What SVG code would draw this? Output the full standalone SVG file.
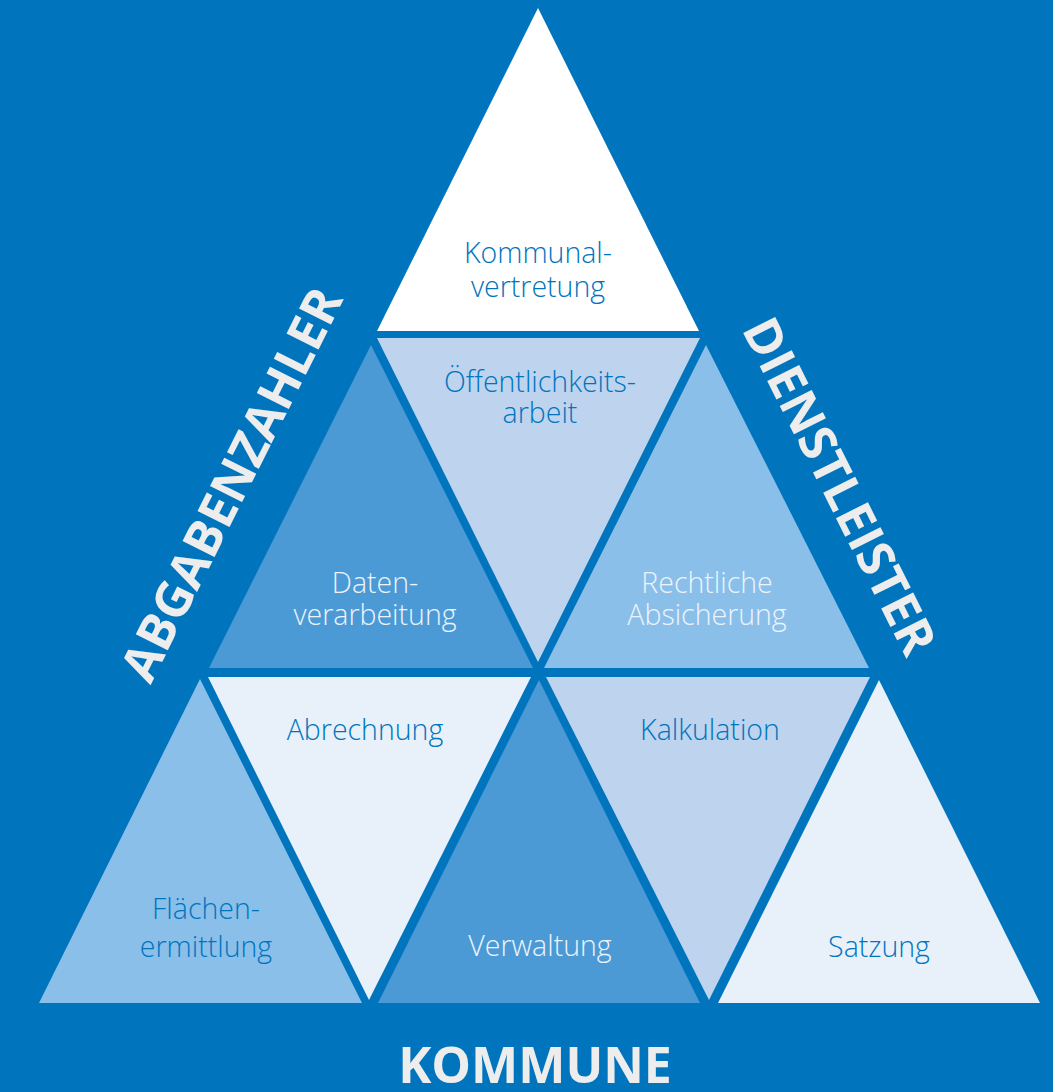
<svg xmlns="http://www.w3.org/2000/svg" width="1053" height="1092" viewBox="0 0 1053 1092">
<style>
.lbl{font-family:"Open Sans","Noto Sans","Liberation Sans",sans-serif;font-weight:300;font-size:28.5px;text-anchor:middle;fill:#0075BE}
.lw{fill:#EEF3FA}
.big{font-family:"Open Sans","Liberation Sans",sans-serif;font-weight:700;font-size:50px;text-anchor:middle;fill:#EDEDED}
.c-white{fill:#FFFFFF}
.c-pale{fill:#E8F0FA}
.c-light{fill:#BDD3EE}
.c-sky{fill:#8ABFEA}
.c-mid{fill:#4B9AD5}
</style>
<rect x="0" y="0" width="1053" height="1092" fill="#0075BE"/>
<g id="nodes">
<g id="kommunalvertretung">
<polygon class="c-white" points="538,8 377,331 699,331"/>
<text class="lbl"><tspan x="538" y="263">Kommunal-</tspan><tspan x="538" y="297">vertretung</tspan></text>
</g>
<g id="oeffentlichkeitsarbeit">
<polygon class="c-light" points="377,338 700,338 538,662"/>
<text class="lbl"><tspan x="540" y="392">Öffentlichkeits-</tspan><tspan x="540" y="423">arbeit</tspan></text>
</g>
<g id="datenverarbeitung">
<polygon class="c-mid" points="371,345 209,668 533,668"/>
<text class="lbl lw"><tspan x="375" y="593">Daten-</tspan><tspan x="375" y="625">verarbeitung</tspan></text>
</g>
<g id="rechtliche-absicherung">
<polygon class="c-sky" points="706,345 544,668 869,668"/>
<text class="lbl lw"><tspan x="707" y="593">Rechtliche</tspan><tspan x="707" y="625">Absicherung</tspan></text>
</g>
<g id="flaechenermittlung">
<polygon class="c-sky" points="200,679 39,1003 362,1003"/>
<text class="lbl"><tspan x="206" y="919">Flächen-</tspan><tspan x="206" y="957">ermittlung</tspan></text>
</g>
<g id="abrechnung">
<polygon class="c-pale" points="208,677 531,677 369,1000"/>
<text class="lbl" x="365" y="740">Abrechnung</text>
</g>
<g id="verwaltung">
<polygon class="c-mid" points="539,680 378,1003 700,1003"/>
<text class="lbl lw" x="540" y="956">Verwaltung</text>
</g>
<g id="kalkulation">
<polygon class="c-light" points="546,677 870,677 709,1000"/>
<text class="lbl" x="710" y="740">Kalkulation</text>
</g>
<g id="satzung">
<polygon class="c-pale" points="879,680 718,1003 1040,1003"/>
<text class="lbl" x="879" y="957">Satzung</text>
</g>
<g id="abgabenzahler">
<text class="big" transform="translate(231,484) rotate(-63.4)" x="0" y="18">ABGABENZAHLER</text>
</g>
<g id="dienstleister">
<text class="big" transform="translate(840,486) rotate(63.4)" x="0" y="18">DIENSTLEISTER</text>
</g>
<g id="kommune">
<text class="big" x="535" y="1083">KOMMUNE</text>
</g>
</g>
<g id="connectors"/>
</svg>
